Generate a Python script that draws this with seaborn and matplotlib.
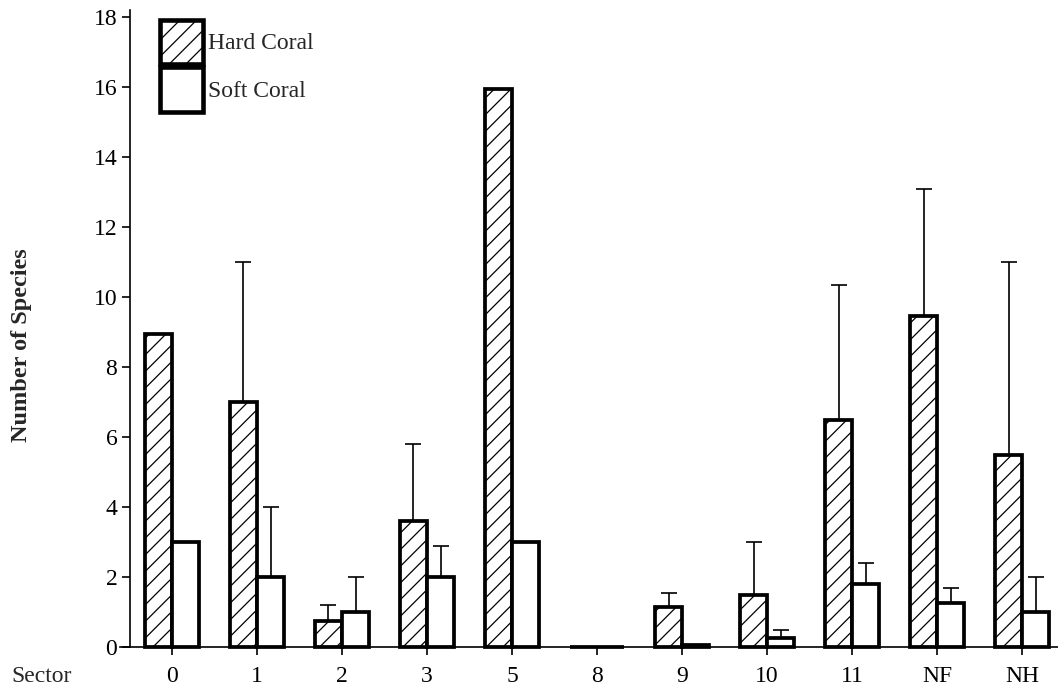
import matplotlib
matplotlib.use("Agg")
import matplotlib.pyplot as plt
import matplotlib.patches as mpatches
import numpy as np
import pandas as pd
import seaborn as sns

# data
sectors = ["0", "1", "2", "3", "5", "8", "9", "10", "11", "NF", "NH"]
hard_mean = [8.95, 7.0, 0.75, 3.6, 15.95, 0.0, 1.15, 1.5, 6.5, 9.45, 5.5]
hard_upper = [np.nan, 11.0, 1.2, 5.8, np.nan, np.nan, 1.55, 3.0, 10.35, 13.1, 11.0]
soft_mean = [3.0, 2.0, 1.0, 2.0, 3.0, 0.0, 0.05, 0.25, 1.8, 1.25, 1.0]
soft_upper = [np.nan, 4.0, 2.0, 2.9, np.nan, np.nan, np.nan, 0.5, 2.4, 1.7, 2.0]
groups = ["Hard Coral", "Soft Coral"]

df = pd.DataFrame({
    "Sector": sectors * 2,
    "Group": [groups[0]] * len(sectors) + [groups[1]] * len(sectors),
    "Species": hard_mean + soft_mean,
})

sns.set_style("ticks")
plt.rcParams["font.family"] = ["Liberation Serif", "DejaVu Serif"]
plt.rcParams["hatch.linewidth"] = 0.9

FS = 17

fig = plt.figure(figsize=(10.58, 6.89), dpi=100)
ax = fig.add_axes([120 / 1058, 42 / 689, 938 / 1058, 637 / 689])

sns.barplot(data=df, x="Sector", y="Species", hue="Group", order=sectors,
            hue_order=groups, palette=["white", "white"], width=0.64,
            edgecolor="black", linewidth=2.7, legend=False, ax=ax)

for cont in ax.containers:
    for bar in cont:
        bar.set_clip_on(False)
        bar.set_zorder(3)
for bar in ax.containers[0]:
    bar.set_hatch("//")

# upper-only error bars
for cont, means, upper in [(ax.containers[0], hard_mean, hard_upper),
                           (ax.containers[1], soft_mean, soft_upper)]:
    xs = np.array([b.get_x() + b.get_width() / 2 for b in cont])
    m = np.array(means)
    u = np.array(upper)
    ok = ~np.isnan(u)
    ax.errorbar(xs[ok], m[ok], yerr=[np.zeros(ok.sum()), u[ok] - m[ok]],
                fmt="none", ecolor="black", elinewidth=1.2, capsize=5.5,
                capthick=1.2, zorder=1)

ax.set_xlim(-0.61, 10.42)
ax.set_ylim(0, 18.2)
ax.set_yticks(range(0, 19, 2))
ax.spines["left"].set_position(("data", -0.494))
ax.spines["right"].set_visible(False)
ax.spines["top"].set_visible(False)
for s in ["left", "bottom"]:
    ax.spines[s].set_linewidth(1.2)
    ax.spines[s].set_color("black")
ax.tick_params(axis="both", labelsize=FS, length=6, width=1.2, color="black",
               labelcolor="black", pad=3)
ax.tick_params(axis="x", pad=8)
ax.set_xlabel("")
ax.set_ylabel("")

fig.text(42 / 1058, 1 - 676 / 689, "Sector", fontsize=FS, ha="center", va="center")
fig.text(22 / 1058, 1 - 345 / 689, "Number of Species", fontsize=FS + 0.5,
         fontweight="bold", rotation=90, ha="center", va="center")

handles = [mpatches.Patch(facecolor="white", edgecolor="black", linewidth=3.3, hatch="//"),
           mpatches.Patch(facecolor="white", edgecolor="black", linewidth=3.3)]
ax.legend(handles, groups, loc="upper left", bbox_to_anchor=(0.043, 0.984),
          frameon=False, fontsize=FS, handlelength=1.8, handleheight=2.5,
          labelspacing=0.13, handletextpad=0.2, borderpad=0, borderaxespad=0)

fig.savefig("out.png", dpi=100)
